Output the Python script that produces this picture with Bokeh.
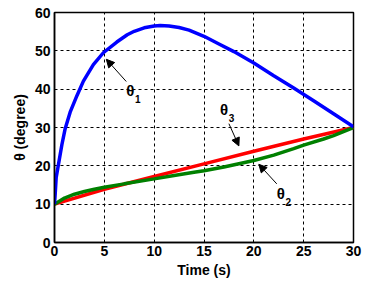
from bokeh.plotting import figure
from bokeh.models import Arrow, NormalHead, Label, Range1d, FixedTicker
from bokeh.embed import file_html
from bokeh.resources import INLINE

# theta1 (blue)
t1 = [0, 0.07, 0.17, 0.4, 0.74, 1.07, 1.57, 2.25, 2.9, 3.9, 4.9, 6.25, 7.3, 8.0, 9.0, 10.0, 10.6,
      11.5, 12.5, 13.5, 15.0, 16.5, 18.0, 20.0, 22.0, 24.0, 26.0, 28.0, 30.0]
th1 = [10.0, 12.7, 17.0, 20.4, 25.5, 29.7, 34.0, 38.3, 42.1, 46.4, 49.5, 52.3, 54.2, 55.1, 56.0, 56.5, 56.6,
       56.5, 56.1, 55.4, 53.8, 51.8, 49.8, 46.8, 43.5, 40.3, 37.0, 33.6, 30.2]
# theta2 (green)
t2 = [0, 1, 2, 3, 4, 5, 7, 10, 12, 14, 15, 17, 20, 22, 24, 25, 27, 28, 30]
th2 = [10.0, 11.6, 12.6, 13.3, 13.9, 14.4, 15.3, 16.6, 17.5, 18.3, 18.7, 19.7, 21.4, 22.8, 24.5, 25.4, 27.0, 27.9, 30.0]
# theta3 (red)
t3 = [0, 5, 10, 15, 20, 25, 30]
th3 = [10.0, 13.9, 17.2, 20.5, 23.8, 27.0, 30.0]

x_ticks = [0, 5, 10, 15, 20, 25, 30]
y_ticks = [0, 10, 20, 30, 40, 50, 60]

FONT = "Liberation Sans"

p = figure(width=363, height=280, output_backend="svg", toolbar_location=None,
           x_range=Range1d(0, 30), y_range=Range1d(0, 60),
           min_border_left=54, min_border_right=10, min_border_top=12, min_border_bottom=34)
p.background_fill_color = "white"
p.border_fill_color = "white"
p.outline_line_color = "black"
p.outline_line_width = 1.5

for ax in (p.xaxis[0], p.yaxis[0]):
    ax.major_label_text_font = FONT
    ax.major_label_text_font_style = "bold"
    ax.major_label_text_font_size = "14px"
    ax.major_label_text_color = "black"
    ax.axis_label_text_font = FONT
    ax.axis_label_text_font_style = "bold"
    ax.axis_label_text_font_size = "14px"
    ax.axis_label_text_color = "black"
    ax.axis_line_color = "black"
    ax.axis_line_width = 1.5
    ax.major_tick_in = 0
    ax.major_tick_out = 0
    ax.minor_tick_in = 0
    ax.minor_tick_out = 0

p.xaxis.ticker = FixedTicker(ticks=x_ticks)
p.yaxis.ticker = FixedTicker(ticks=y_ticks)
p.xaxis.axis_label = "Time (s)"
p.yaxis.axis_label = "θ (degree)"
p.xaxis.major_label_standoff = 3
p.xaxis.axis_label_standoff = 3
p.yaxis.major_label_standoff = 4
p.yaxis.axis_label_standoff = 4

p.grid.grid_line_color = "black"
p.grid.grid_line_dash = "3 3"
p.grid.grid_line_width = 1
p.grid.grid_line_alpha = 1.0

p.line(t3, th3, line_color="#ff0000", line_width=3.5)
p.line(t2, th2, line_color="#008000", line_width=3.5)
p.line(t1, th1, line_color="#0000ff", line_width=3.5)

def arrow(x0, y0, x1, y1):
    p.add_layout(Arrow(end=NormalHead(size=8, fill_color="black", line_color="black"),
                       x_start=x0, y_start=y0, x_end=x1, y_end=y1,
                       line_color="black", line_width=1))

arrow(7.2, 42.0, 5.2, 47.8)
arrow(17.5, 31.0, 18.5, 25.2)
arrow(22.3, 15.3, 20.5, 20.4)

def sym(x, y, sub):
    p.add_layout(Label(x=x, y=y, text="θ", text_font=FONT, text_font_style="bold",
                       text_font_size="15px", text_color="black",
                       text_align="center", text_baseline="middle"))
    p.add_layout(Label(x=x + 0.75, y=y - 2.2, text=sub, text_font=FONT, text_font_style="bold",
                       text_font_size="10px", text_color="black",
                       text_align="center", text_baseline="middle"))

sym(7.6, 39.6, "1")
sym(17.0, 34.6, "3")
sym(22.7, 12.8, "2")

open("out.html", "w").write(file_html(p, INLINE))
